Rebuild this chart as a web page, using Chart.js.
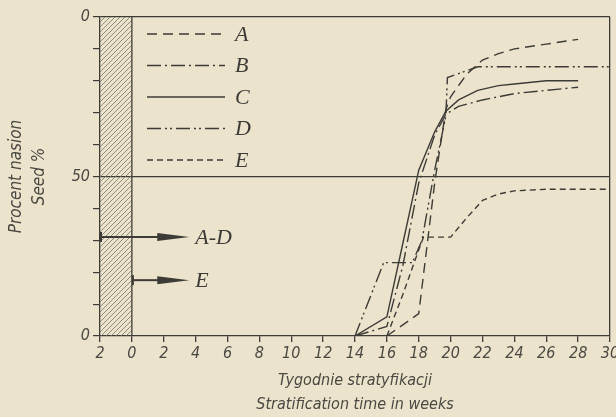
<!DOCTYPE html>
<html lang="pl">
<head>
<meta charset="UTF-8">
<title>Procent nasion - stratyfikacja</title>
<script src="https://cdn.jsdelivr.net/npm/chart.js"></script>
<style>
    body { margin: 0; background: #ebe3cb; }
    .wykres { width: 616px; height: 417px; }
</style>
</head>
<body>
<div class="wykres"><canvas id="myChart" width="616" height="417"></canvas></div>

<script>
    // dane (tygodnie stratyfikacji -> % nasion)
    const seriesNames = ['A', 'B', 'C', 'D', 'E'];

    const weeksA = [16, 18, 19, 19.7, 20, 21, 22, 23, 24, 26, 28];
    const seedA  = [0, 7, 48, 71, 75, 82, 86.5, 88.5, 90, 91.5, 93];

    const weeksB = [14, 16, 17, 18, 19, 19.7, 20.5, 22, 24, 26, 28];
    const seedB  = [0, 3, 22, 48, 63, 69.5, 72, 74, 76, 77, 78];

    const weeksC = [14, 16, 17, 18, 19, 19.7, 20.5, 21.7, 23, 24, 26, 28];
    const seedC  = [0, 6, 29, 52, 64, 70.5, 74, 77, 78.5, 79, 80, 80];

    const weeksD = [14, 15.8, 17.6, 18.2, 19, 19.7, 19.8, 21.7, 30];
    const seedD  = [0, 23, 23, 30, 52, 69, 81, 84.4, 84.4];

    const weeksE = [16, 17, 18, 18.3, 20, 21, 22, 23, 24, 26, 28, 30];
    const seedE  = [0, 13, 27, 31, 31, 37, 42.5, 44.5, 45.5, 46, 46, 46];

    // okres przed stratyfikacja (zakreskowany)
    const pretreatFrom = -2;
    const pretreatTo = 0;

    // strzalki poziomu kielkowania
    const arrowLabels = ['A-D', 'E'];
    const arrowFrom = [-2, 0];
    const arrowTo = [3.6, 3.6];
    const arrowLevel = [31, 17.5];

    // osie
    const xMin = -2, xMax = 30, xStep = 2;
    const yLabelValues = [0, 50, 100];
    const yLabelTexts = ['0', '50', '0'];

    const ink = '#3d3b37';
    const dashes = [[10, 6], [14, 4, 2, 4], [], [14, 4, 2, 3, 2, 4], [6, 4]];

    function punkty(xs, ys) {
        return xs.map((x, i) => ({ x: x, y: ys[i] }));
    }

    const allWeeks = [weeksA, weeksB, weeksC, weeksD, weeksE];
    const allSeed = [seedA, seedB, seedC, seedD, seedE];

    const datasets = seriesNames.map((name, i) => ({
        label: name,
        data: punkty(allWeeks[i], allSeed[i]),
        borderColor: ink,
        borderWidth: 1.4,
        borderDash: dashes[i],
        pointRadius: 0,
        tension: 0,
        fill: false
    }));

    // kreskowanie, strzalki i legenda
    const rysunek = {
        id: 'rysunek',
        beforeDatasetsDraw(chart) {
            const { ctx, chartArea, scales } = chart;
            const x0 = scales.x.getPixelForValue(pretreatFrom);
            const x1 = scales.x.getPixelForValue(pretreatTo);
            const w = x1 - x0;
            ctx.save();
            ctx.beginPath();
            ctx.rect(x0, chartArea.top, w, chartArea.bottom - chartArea.top);
            ctx.clip();
            ctx.strokeStyle = '#77736a';
            ctx.lineWidth = 0.8;
            for (let y = chartArea.top - w; y < chartArea.bottom + w; y += 5) {
                ctx.beginPath();
                ctx.moveTo(x0, y + w);
                ctx.lineTo(x1, y);
                ctx.stroke();
            }
            ctx.restore();
            ctx.save();
            ctx.strokeStyle = ink;
            ctx.lineWidth = 1.3;
            ctx.beginPath();
            ctx.moveTo(x1, chartArea.top);
            ctx.lineTo(x1, chartArea.bottom);
            ctx.stroke();
            ctx.restore();
        },
        afterDatasetsDraw(chart) {
            const { ctx, chartArea, scales } = chart;
            ctx.save();
            ctx.fillStyle = ink;
            ctx.strokeStyle = ink;
            for (let i = 0; i < arrowLabels.length; i++) {
                const xs = scales.x.getPixelForValue(arrowFrom[i]);
                const xe = scales.x.getPixelForValue(arrowTo[i]);
                const y = scales.y.getPixelForValue(arrowLevel[i]);
                ctx.lineWidth = 2;
                ctx.beginPath();
                ctx.moveTo(xs, y);
                ctx.lineTo(xe - 30, y);
                ctx.stroke();
                ctx.beginPath();
                ctx.moveTo(xs + 1, y - 5);
                ctx.lineTo(xs + 1, y + 5);
                ctx.stroke();
                ctx.beginPath();
                ctx.moveTo(xe - 32, y - 4);
                ctx.lineTo(xe, y);
                ctx.lineTo(xe - 32, y + 4);
                ctx.closePath();
                ctx.fill();
                ctx.font = 'italic 22px "Liberation Serif", serif';
                ctx.textBaseline = 'middle';
                ctx.fillText(arrowLabels[i], xe + 6, y + 1);
            }

            // legenda
            const lx = chartArea.left + 47;
            chart.data.datasets.forEach((ds, i) => {
                const ly = chartArea.top + 17 + i * 31.5;
                ctx.lineWidth = ds.borderWidth;
                ctx.setLineDash(ds.borderDash);
                ctx.beginPath();
                ctx.moveTo(lx, ly);
                ctx.lineTo(lx + 78, ly);
                ctx.stroke();
                ctx.setLineDash([]);
                ctx.font = 'italic 22px "Liberation Serif", serif';
                ctx.textBaseline = 'middle';
                ctx.fillText(ds.label, lx + 88, ly + 1);
            });
            ctx.restore();
        }
    };

    const tickFont = { family: '"DejaVu Sans Condensed", "DejaVu Sans", sans-serif', style: 'italic', size: 16 };
    const titleFont = { family: '"DejaVu Sans Condensed", "DejaVu Sans", sans-serif', style: 'italic', size: 16, lineHeight: 1.5 };

    new Chart(document.getElementById('myChart'), {
        type: 'line',
        data: { datasets: datasets },
        plugins: [rysunek],
        options: {
            responsive: false,
            animation: false,
            layout: { padding: { top: 17, right: 6, left: 0, bottom: 0 } },
            plugins: { legend: { display: false }, tooltip: { enabled: false } },
            scales: {
                x: {
                    type: 'linear',
                    min: xMin,
                    max: xMax,
                    afterFit: (scale) => {
                        scale.height = 81;
                        scale.paddingLeft = 0;
                        scale.paddingRight = 0;
                    },
                    ticks: {
                        stepSize: xStep,
                        color: '#4a4843',
                        font: tickFont,
                        padding: 2,
                        maxRotation: 0,
                        callback: (v) => String(Math.abs(v))
                    },
                    grid: {
                        color: (c) => c.tick && c.tick.value === xMax ? ink : 'rgba(0,0,0,0)',
                        tickColor: ink,
                        tickLength: 6,
                        lineWidth: 1.3
                    },
                    border: { color: ink, width: 1.3 },
                    title: {
                        display: true,
                        text: ['Tygodnie stratyfikacji', 'Stratification time in weeks'],
                        color: '#4a4843',
                        font: titleFont,
                        padding: { top: 0, bottom: 0 }
                    }
                },
                y: {
                    min: 0,
                    max: 100,
                    afterFit: (scale) => { scale.width = 100; },
                    ticks: {
                        stepSize: 10,
                        color: '#4a4843',
                        font: tickFont,
                        padding: 3,
                        callback: (v) => {
                            const k = yLabelValues.indexOf(v);
                            return k >= 0 ? yLabelTexts[k] : '';
                        }
                    },
                    grid: {
                        color: (c) => c.tick && (c.tick.value === 50 || c.tick.value === 100) ? ink : 'rgba(0,0,0,0)',
                        tickColor: ink,
                        tickLength: 7,
                        lineWidth: 1.2
                    },
                    border: { color: ink, width: 1.3 },
                    title: {
                        display: true,
                        text: ['Procent nasion', 'Seed %'],
                        color: '#4a4843',
                        font: { family: titleFont.family, style: 'italic', size: 17, lineHeight: 1.35 },
                        padding: { top: 5, bottom: 0 }
                    }
                }
            }
        }
    });
</script>
</body>
</html>
